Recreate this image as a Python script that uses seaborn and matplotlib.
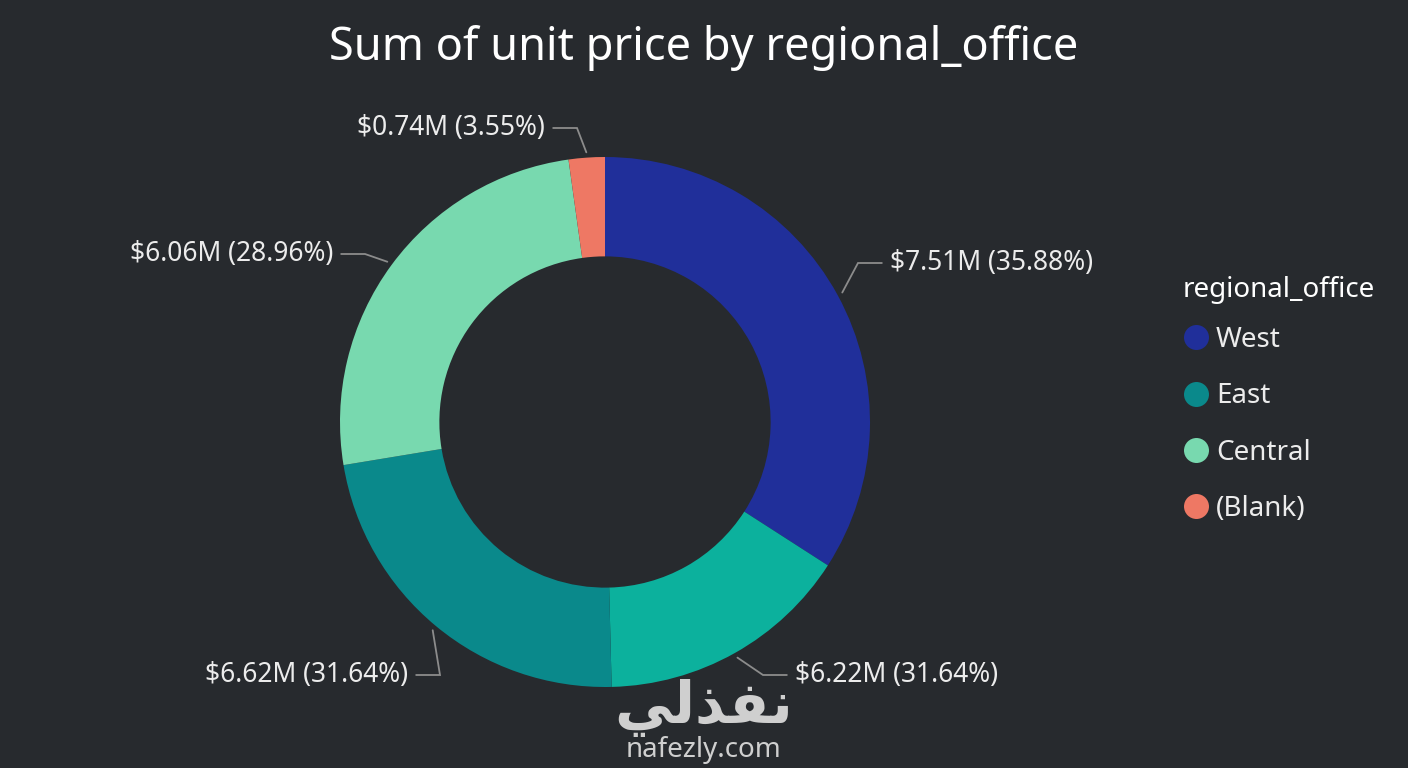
import numpy as np
import matplotlib
matplotlib.use("Agg")
import matplotlib.pyplot as plt
from matplotlib.lines import Line2D
import seaborn as sns

# ---------------------------------
# Data
# ---------------------------------
slice_names = ["West", "Unlabeled", "East", "Central", "(Blank)"]
slice_share = [34.1, 15.5, 22.8, 25.4, 2.2]          # angular share of each ring slice
amount_m = [7.51, 6.22, 6.62, 6.06, 0.74]           # label values, $M
pct_text = [35.88, 31.64, 31.64, 28.96, 3.55]       # label percentages
slice_colors = ["#202f9a", "#0cb19d", "#0a898b", "#78d9af", "#ee7864"]

legend_names = ["West", "East", "Central", "(Blank)"]
legend_colors = ["#202f9a", "#0a898b", "#78d9af", "#ee7864"]

# label elbow points (layout only, in pixels of the 1408x768 canvas)
elbow_px = [(858, 263), (763, 675), (440, 675), (365, 254), (577, 128)]

bg = "#272a2e"

sns.set_theme(style="dark", rc={"figure.facecolor": bg, "axes.facecolor": bg})
plt.rcParams["font.family"] = ["Noto Sans", "DejaVu Sans"]

fig = plt.figure(figsize=(14.08, 7.68), dpi=100)
ax = fig.add_axes([0, 0, 1, 1])
ax.set_facecolor(bg)

# ---------------------------------
# Donut
# ---------------------------------
wedges, _ = ax.pie(
    slice_share,
    colors=slice_colors,
    startangle=90,
    counterclock=False,
    radius=1.0,
    wedgeprops=dict(width=0.375, linewidth=0),
)

# 265 px per unit, centre at (605, 422) px
scale, cx0, cy0 = 265, 605, 422
ax.set_xlim(-cx0 / scale, (1408 - cx0) / scale)
ax.set_ylim(-(768 - cy0) / scale, cy0 / scale)
ax.set_aspect("equal")
ax.axis("off")

# leader lines + data labels
for w, amt, pct, (ex, ey) in zip(wedges, amount_m, pct_text, elbow_px):
    mid = np.deg2rad((w.theta1 + w.theta2) / 2)
    x0, y0 = 1.02 * np.cos(mid), 1.02 * np.sin(mid)
    x1, y1 = (ex - cx0) / scale, (cy0 - ey) / scale
    side = 1 if x1 >= 0 else -1
    x2 = x1 + side * 0.09
    ax.plot([x0, x1, x2], [y0, y1, y1], color="#8c8c8c", lw=1.3,
            solid_joinstyle="miter")
    ax.text(x2 + side * 0.03, y1, f"${amt:.2f}M ({pct:.2f}%)",
            ha="left" if side > 0 else "right", va="center",
            fontsize=19, color="#ececec")

# ---------------------------------
# Title and legend
# ---------------------------------
fig.text(0.5, 1 - 48 / 768, "Sum of unit price by regional_office",
         ha="center", va="center", fontsize=32.5, color="white")

fig.text(1183 / 1408, 1 - 290 / 768, "regional_office", ha="left",
         va="center", fontsize=20, fontweight="semibold", color="white")

handles = [Line2D([], [], marker="o", ls="", markersize=18,
                  markerfacecolor=c, markeredgewidth=0) for c in legend_colors]
leg = fig.legend(handles, legend_names,
                 loc="upper left", bbox_to_anchor=(0.831, 1 - 312 / 768),
                 frameon=False, fontsize=20,
                 handlelength=0.85, handletextpad=0.3, labelspacing=1.02,
                 borderpad=0)
for t in leg.get_texts():
    t.set_color("#ececec")

# watermark
fig.text(0.4995, 1 - 708 / 768, "\uFEF2\uFEDF\uFEAC\uFED4\uFEE7",
         ha="center", va="center", fontsize=42, fontweight="bold",
         color="#cfcfcf", family=["DejaVu Sans"])
fig.text(0.4995, 1 - 750 / 768, "nafezly.com", ha="center", va="center",
         fontsize=20, color="#cfcfcf")

plt.savefig("out.png", dpi=100, facecolor=bg)
